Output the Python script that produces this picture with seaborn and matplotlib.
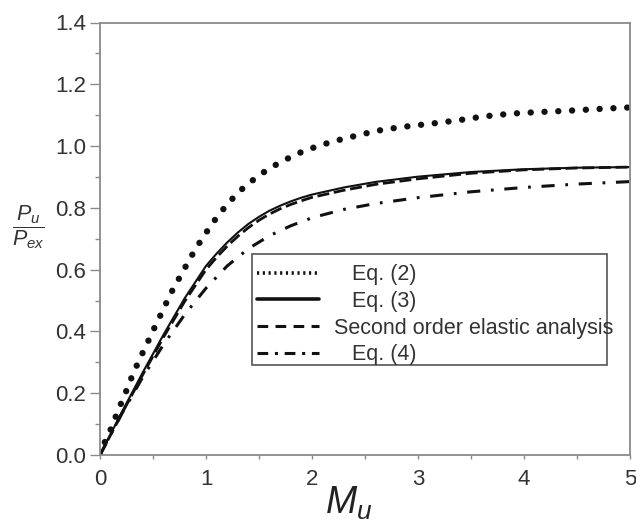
import numpy as np
import pandas as pd
import matplotlib
matplotlib.use("Agg")
import matplotlib.pyplot as plt
from matplotlib.lines import Line2D
from matplotlib.patches import Rectangle
from matplotlib.ticker import MultipleLocator
import seaborn as sns

# ---- data ----
eq2_x = [0, 0.038, 0.101, 0.148, 0.195, 0.245, 0.292, 0.342, 0.393, 0.446, 0.500, 0.557,
         0.613, 0.667, 0.729, 0.792, 0.856, 0.918, 0.988, 1.063, 1.139, 1.226, 1.314,
         1.409, 1.509, 1.613, 1.729, 1.846, 1.965, 2.092, 2.211, 2.337, 2.462, 2.588,
         2.75, 2.95, 3.11, 3.37, 3.62, 3.88, 4.13, 4.40, 4.65, 4.92, 5.0]
eq2_y = [0, 0.036, 0.083, 0.124, 0.164, 0.205, 0.246, 0.286, 0.324, 0.362, 0.402, 0.443,
         0.483, 0.523, 0.561, 0.600, 0.640, 0.676, 0.713, 0.751, 0.786, 0.821, 0.853,
         0.881, 0.907, 0.931, 0.952, 0.973, 0.989, 1.004, 1.016, 1.027, 1.037, 1.048,
         1.057, 1.066, 1.072, 1.083, 1.096, 1.105, 1.110, 1.114, 1.119, 1.124, 1.125]

eq3_x = [0, 0.2, 0.4, 0.6, 0.8, 1.0, 1.1, 1.2, 1.3, 1.4, 1.5, 1.6, 1.7, 1.8, 1.9, 2.0,
         2.3, 2.6, 3.0, 3.5, 4.0, 4.5, 5.0]
eq3_y = [0, 0.135, 0.265, 0.390, 0.508, 0.612, 0.652, 0.688, 0.720, 0.748, 0.771, 0.791,
         0.807, 0.821, 0.833, 0.843, 0.866, 0.884, 0.901, 0.916, 0.925, 0.930, 0.932]

soe_x = [0, 0.2, 0.4, 0.6, 0.8, 1.0, 1.1, 1.2, 1.3, 1.4, 1.5, 1.6, 1.7, 1.8, 1.9, 2.0,
         2.3, 2.6, 3.0, 3.5, 4.0, 4.5, 5.0]
soe_y = [0, 0.130, 0.258, 0.382, 0.498, 0.600, 0.640, 0.676, 0.708, 0.736, 0.760, 0.780,
         0.797, 0.811, 0.823, 0.834, 0.857, 0.876, 0.894, 0.912, 0.923, 0.929, 0.932]

eq4_x = [0, 0.2, 0.4, 0.6, 0.8, 1.0, 1.2, 1.4, 1.6, 1.8, 2.0, 2.3, 2.6, 3.0, 3.5, 4.0, 4.5, 5.0]
eq4_y = [0, 0.130, 0.250, 0.358, 0.455, 0.540, 0.612, 0.668, 0.710, 0.742, 0.768, 0.795,
         0.814, 0.833, 0.852, 0.866, 0.877, 0.885]

labels = ["   Eq. (2)", "   Eq. (3)", "Second order elastic analysis", "   Eq. (4)"]
x_ticks = [0, 1, 2, 3, 4, 5]
y_ticks = [0.0, 0.2, 0.4, 0.6, 0.8, 1.0, 1.2, 1.4]

# ---- style ----
sns.set_theme(style="white")
plt.rcParams["font.family"] = ["Liberation Sans", "DejaVu Sans"]
plt.rcParams["mathtext.fontset"] = "custom"
plt.rcParams["mathtext.it"] = "Liberation Sans:italic"
plt.rcParams["mathtext.rm"] = "Liberation Sans"

fig = plt.figure(figsize=(6.36, 5.27), dpi=100)
ax = fig.add_axes([100 / 636, 1 - 455 / 527, 530 / 636, 432.5 / 527])

spine_col = "#8a8a8a"
black = "#111111"

sns.lineplot(x=eq2_x, y=eq2_y, ax=ax, color=black, lw=4.6,
             linestyle=(0, (0.01, 2.15)), dash_capstyle="round", sort=False)
sns.lineplot(x=eq3_x, y=eq3_y, ax=ax, color=black, lw=1.5, sort=False)
sns.lineplot(x=soe_x, y=soe_y, ax=ax, color=black, lw=2.0,
             linestyle=(0, (4.3, 1.7)), sort=False)
sns.lineplot(x=eq4_x, y=eq4_y, ax=ax, color=black, lw=2.2,
             linestyle=(0, (4.3, 3.5, 0.9, 3.5)), sort=False)

ax.set_xlim(0, 5)
ax.set_ylim(0, 1.4)
ax.set_xticks(x_ticks)
ax.set_yticks(y_ticks)
ax.set_yticklabels([f"{v:.1f}" for v in y_ticks])
ax.xaxis.set_minor_locator(MultipleLocator(0.5))
ax.yaxis.set_minor_locator(MultipleLocator(0.1))
ax.tick_params(axis="both", which="both", direction="out", color=spine_col,
               labelcolor="#333333", labelsize=16, width=1.0)
ax.tick_params(axis="y", which="major", length=7, pad=3)
ax.tick_params(axis="y", which="minor", length=3.5)
ax.tick_params(axis="x", which="both", length=3)
ax.tick_params(axis="x", which="major", pad=7)
ax.tick_params(which="both", left=True, bottom=True, top=False, right=False)

for s in ax.spines.values():
    s.set_color(spine_col)
    s.set_linewidth(1.3)

ax.set_xlabel(r"$M_u$", fontsize=27, color="#222222")
ax.xaxis.set_label_coords(0.47, -0.069)
ax.set_ylabel(r"$\dfrac{P_u}{P_{ex}}$", fontsize=15.5, color="#333333",
              rotation=0, va="center", ha="center")
ax.yaxis.set_label_coords((28 - 100) / 530, (455 - 227) / 432.5)

# ---- legend ----
handles = [
    Line2D([], [], color=black, lw=2.6, linestyle=(0, (0.6, 1.0))),
    Line2D([], [], color=black, lw=2.6),
    Line2D([], [], color=black, lw=2.2, linestyle=(0, (3.5, 2.4))),
    Line2D([], [], color=black, lw=2.2, linestyle=(0, (3.5, 2.2, 1.0, 2.2))),
]
leg = ax.legend(handles, labels, loc="upper left", frameon=False,
                bbox_to_anchor=((252 - 100) / 530, (455 - 259) / 432.5),
                fontsize=15.5, handlelength=2.84, handletextpad=0.7,
                labelspacing=0.26, borderaxespad=0, borderpad=0.25)
for t in leg.get_texts():
    t.set_color("#333333")

ax.add_patch(Rectangle(((252 - 100) / 530, (455 - 365) / 432.5),
                       (607 - 252) / 530, (365 - 254) / 432.5,
                       transform=ax.transAxes, fill=False,
                       edgecolor="#555555", lw=1.2, zorder=1))

fig.savefig("out.png", dpi=100)
